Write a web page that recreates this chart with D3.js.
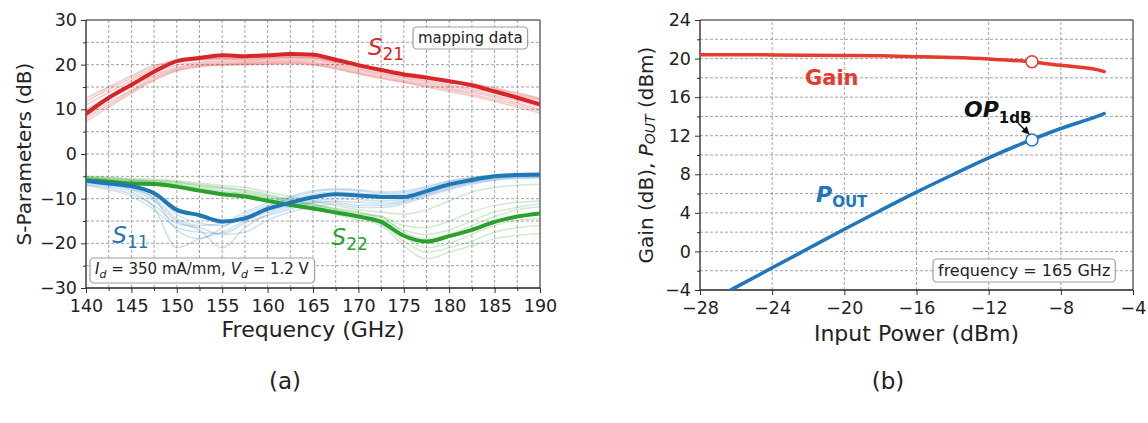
<!DOCTYPE html>
<html>
<head>
<meta charset="utf-8">
<script src="https://cdn.jsdelivr.net/npm/d3@7"></script>
<style>
  body { margin: 0; background: #fff; }
  svg { display: block; }
  text { font-family: "DejaVu Sans", sans-serif; }
</style>
</head>
<body>
<svg id="chart" width="1148" height="423" fill="#222"></svg>
<script>
// ---- panel (a): S-parameters vs frequency ----
var freq = [140, 142.5, 145, 147.5, 150, 152.5, 155, 157.5, 160, 162.5, 165,
            167.5, 170, 172.5, 175, 177.5, 180, 182.5, 185, 187.5, 190];

var s21 = [9.0, 12.6, 15.5, 18.4, 20.8, 21.5, 22.1, 21.9, 22.1, 22.4, 22.2,
           21.1, 19.9, 18.8, 17.8, 17.1, 16.3, 15.4, 14.0, 12.6, 11.1];
var s11 = [-6.0, -6.6, -7.2, -8.8, -12.5, -13.7, -15.1, -14.4, -12.3, -10.9, -9.7,
           -9.0, -9.3, -9.6, -9.6, -8.3, -6.8, -5.8, -5.0, -4.7, -4.6];
var s22 = [-5.9, -6.2, -6.6, -6.7, -7.3, -8.2, -9.0, -9.5, -10.5, -11.4, -12.2,
           -13.1, -14.0, -15.2, -18.3, -19.6, -18.4, -17.0, -15.2, -14.0, -13.3];

// the faint "mapping data" traces
var s21Map = [
  [12.5, 15.0, 17.5, 19.8, 21.0, 21.3, 21.5, 21.5, 21.6, 21.8, 21.6, 20.8, 19.9, 19.0, 18.2, 17.4, 16.6, 15.8, 14.8, 13.7, 12.5],
  [11.0, 13.8, 16.5, 19.0, 20.6, 21.0, 21.2, 21.1, 21.3, 21.5, 21.3, 20.4, 19.4, 18.5, 17.6, 16.8, 16.0, 15.2, 14.2, 13.1, 12.0],
  [10.0, 12.8, 15.5, 18.2, 19.9, 20.5, 20.8, 20.8, 21.0, 21.2, 21.0, 20.1, 19.1, 18.1, 17.2, 16.4, 15.5, 14.6, 13.6, 12.4, 11.2],
  [9.5, 12.2, 15.0, 17.6, 19.4, 20.2, 20.5, 20.5, 20.7, 20.9, 20.6, 19.8, 18.8, 17.8, 16.9, 16.0, 15.1, 14.2, 13.1, 11.9, 10.6],
  [8.5, 11.5, 14.3, 17.2, 19.1, 19.9, 20.2, 20.3, 20.5, 20.6, 20.3, 19.5, 18.4, 17.4, 16.5, 15.6, 14.7, 13.8, 12.7, 11.4, 10.0],
  [8.0, 11.0, 14.0, 16.8, 18.8, 19.7, 20.0, 20.1, 20.2, 20.4, 20.1, 19.2, 18.1, 17.1, 16.2, 15.3, 14.4, 13.4, 12.2, 11.0, 9.6],
  [7.3, 10.5, 13.6, 16.5, 18.6, 19.5, 19.9, 20.0, 20.1, 20.2, 19.9, 19.0, 17.9, 16.9, 16.0, 15.0, 14.0, 13.0, 11.8, 10.5, 9.2],
  [11.8, 14.5, 17.0, 19.4, 20.8, 21.2, 21.4, 21.3, 21.5, 21.7, 21.5, 20.6, 19.6, 18.7, 17.9, 17.0, 16.2, 15.4, 14.5, 13.4, 12.3]
];
var s11Map = [
  [-5.8, -6.5, -7.5, -10.0, -17.0, -19.0, -16.5, -13.5, -11.5, -10.2, -9.0, -8.5, -8.8, -9.2, -9.0, -7.8, -6.5, -5.6, -5.0, -4.8, -4.7],
  [-6.5, -7.3, -8.5, -12.0, -21.0, -19.0, -17.5, -15.0, -13.0, -11.5, -10.5, -10.0, -10.2, -10.5, -10.2, -8.8, -7.3, -6.2, -5.4, -5.0, -4.9],
  [-6.2, -7.0, -8.0, -10.5, -15.0, -17.0, -21.0, -16.5, -13.5, -11.8, -10.8, -10.5, -10.8, -11.0, -10.5, -9.0, -7.5, -6.3, -5.5, -5.1, -5.0],
  [-7.0, -8.0, -9.5, -12.5, -16.5, -17.5, -17.8, -15.5, -13.8, -12.3, -11.0, -10.8, -11.5, -11.5, -10.8, -9.2, -7.8, -6.5, -5.7, -5.3, -5.2],
  [-5.5, -6.0, -7.0, -9.0, -13.5, -15.5, -16.0, -14.0, -11.8, -9.8, -8.5, -8.0, -8.3, -8.8, -8.6, -7.5, -6.2, -5.3, -4.8, -4.6, -4.5],
  [-6.8, -7.6, -9.0, -11.5, -15.5, -16.5, -18.0, -17.5, -14.8, -13.0, -11.8, -11.2, -12.0, -12.0, -11.2, -9.5, -8.0, -6.8, -5.9, -5.5, -5.4],
  [-6.0, -6.8, -7.8, -9.8, -14.5, -16.0, -15.5, -13.0, -11.0, -9.5, -8.2, -7.8, -8.0, -8.5, -8.3, -7.2, -6.0, -5.2, -4.7, -4.5, -4.4]
];
var s22Map = [
  [-5.0, -5.2, -5.5, -5.6, -6.0, -6.5, -7.0, -7.5, -8.5, -9.5, -10.5, -11.5, -12.5, -13.0, -13.5, -12.5, -10.5, -8.5, -7.5, -7.0, -6.8],
  [-5.3, -5.6, -5.9, -6.1, -6.5, -7.2, -7.8, -8.5, -9.5, -10.5, -11.5, -12.5, -13.5, -14.0, -16.0, -16.5, -15.0, -13.0, -11.5, -10.8, -10.5],
  [-5.5, -5.8, -6.2, -6.4, -6.9, -7.8, -8.5, -9.0, -10.0, -11.0, -12.0, -13.0, -14.2, -15.5, -19.5, -22.0, -21.0, -19.5, -17.5, -16.5, -16.0],
  [-5.7, -6.0, -6.4, -6.6, -7.2, -8.0, -8.8, -9.2, -10.3, -11.2, -12.3, -13.5, -14.8, -16.0, -20.5, -23.5, -22.0, -20.5, -19.0, -18.2, -17.8],
  [-5.2, -5.5, -5.8, -6.0, -6.4, -7.0, -7.6, -8.2, -9.3, -10.3, -11.3, -12.3, -13.2, -14.0, -17.5, -19.0, -18.0, -16.0, -14.0, -12.5, -11.8],
  [-5.4, -5.7, -6.0, -6.3, -6.8, -7.5, -8.2, -8.8, -9.8, -10.8, -11.8, -12.8, -13.8, -14.8, -18.5, -21.0, -20.0, -18.0, -16.0, -14.8, -14.5],
  [-5.1, -5.3, -5.7, -5.9, -6.2, -6.8, -7.4, -8.0, -9.0, -10.2, -11.2, -12.2, -13.0, -14.5, -17.0, -18.0, -17.0, -15.0, -13.0, -12.0, -11.0]
];

var freqTicks = [140, 145, 150, 155, 160, 165, 170, 175, 180, 185, 190];
var sparTicks = [-30, -20, -10, 0, 10, 20, 30];

// ---- panel (b): gain and output power vs input power ----
var pin  = [-28, -26, -24, -22, -20, -18, -16, -14, -12, -10, -8, -6, -5.6];
var gain = [20.4, 20.4, 20.38, 20.35, 20.32, 20.28, 20.2, 20.1, 19.95, 19.72, 19.3, 18.85, 18.65];
var pout = [-5.7, -3.7, -1.7, 0.3, 2.3, 4.25, 6.15, 7.95, 9.7, 11.3, 12.75, 14.0, 14.3];
var op1dbPin = [-9.6];
var op1dbGain = [19.68];
var op1dbPout = [11.56];

var pinTicks = [-28, -24, -20, -16, -12, -8, -4];
var powTicks = [-4, 0, 4, 8, 12, 16, 20, 24];

var RED = '#d62728', BLUE = '#1f77b4', GREEN = '#2ca02c';
var RED_B = '#e53b2c', BLUE_B = '#2077be';

var svg = d3.select('#chart');
var defs = svg.append('defs');

// grid + axes + frame for one panel
function frame(g, x, y, xMajor, xMinor, yMajor, yMinor, xGrid, yGrid) {
  var x0 = x.range()[0], x1 = x.range()[1], y0 = y.range()[0], y1 = y.range()[1];
  var grid = g.append('g').attr('stroke', '#8c8c8c').attr('stroke-width', 0.8)
              .attr('stroke-dasharray', '3,2');
  grid.selectAll('.gx').data(xGrid).enter().append('line')
      .attr('x1', function(d) { return x(d); }).attr('x2', function(d) { return x(d); })
      .attr('y1', y0).attr('y2', y1);
  grid.selectAll('.gy').data(yGrid).enter().append('line')
      .attr('y1', function(d) { return y(d); }).attr('y2', function(d) { return y(d); })
      .attr('x1', x0).attr('x2', x1);

  var ax = g.append('g').attr('transform', 'translate(0,' + y0 + ')')
            .call(d3.axisBottom(x).tickValues(xMajor).tickSize(5).tickPadding(3).tickFormat(d3.format('d')));
  var axm = g.append('g').attr('transform', 'translate(0,' + y0 + ')')
             .call(d3.axisBottom(x).tickValues(xMinor).tickSize(3).tickFormat(''));
  var ay = g.append('g').attr('transform', 'translate(' + x0 + ',0)')
            .call(d3.axisLeft(y).tickValues(yMajor).tickSize(5).tickPadding(4).tickFormat(d3.format('d')));
  var aym = g.append('g').attr('transform', 'translate(' + x0 + ',0)')
             .call(d3.axisLeft(y).tickValues(yMinor).tickSize(3).tickFormat(''));
  [ax, axm, ay, aym].forEach(function(a) {
    a.select('.domain').remove();
    a.selectAll('line').attr('stroke', '#333').attr('stroke-width', 1);
    a.selectAll('text').attr('font-size', 17.5).attr('fill', '#222')
     .attr('font-family', '"DejaVu Sans", sans-serif');
  });
  ax.selectAll('text').attr('dy', '0.9em');

  // spines: top/right grey, left/bottom dark
  g.append('line').attr('x1', x0).attr('x2', x1).attr('y1', y1).attr('y2', y1)
   .attr('stroke', '#666').attr('stroke-width', 1.5);
  g.append('line').attr('x1', x1).attr('x2', x1).attr('y1', y0).attr('y2', y1)
   .attr('stroke', '#666').attr('stroke-width', 1.5);
  g.append('line').attr('x1', x0).attr('x2', x0).attr('y1', y0).attr('y2', y1)
   .attr('stroke', '#222').attr('stroke-width', 1.3);
  g.append('line').attr('x1', x0).attr('x2', x1).attr('y1', y0).attr('y2', y0)
   .attr('stroke', '#222').attr('stroke-width', 1.3);
}

function clip(id, x, y) {
  defs.append('clipPath').attr('id', id).append('rect')
      .attr('x', x.range()[0]).attr('y', y.range()[1])
      .attr('width', x.range()[1] - x.range()[0])
      .attr('height', y.range()[0] - y.range()[1]);
}

// rounded annotation box sized around its text
function boxed(g, x, y, build) {
  var t = g.append('text').attr('x', x).attr('y', y).attr('font-size', 15);
  build(t);
  var b = t.node().getBBox();
  g.insert('rect', function() { return t.node(); })
   .attr('x', b.x - 5).attr('y', b.y - 2).attr('width', b.width + 10).attr('height', b.height + 4)
   .attr('rx', 4).attr('fill', 'white').attr('fill-opacity', 0.85)
   .attr('stroke', '#a0a0a0').attr('stroke-width', 1.2);
}

function sLabel(g, x, y, sub, color) {
  var t = g.append('text').attr('x', x).attr('y', y).attr('fill', color);
  t.append('tspan').attr('font-size', 23).attr('font-style', 'italic').text('S');
  t.append('tspan').attr('font-size', 17).attr('dy', 5).text(sub);
}

// ================= panel (a) =================
var xa = d3.scaleLinear().domain([140, 190]).range([86, 540]);
var ya = d3.scaleLinear().domain([-30, 30]).range([288, 20]);
var ga = svg.append('g');
var fMinor = d3.range(142.5, 190, 5);
var sMinor = d3.range(-25, 30, 10);
frame(ga, xa, ya, freqTicks, fMinor, sparTicks, sMinor,
      d3.range(142.5, 190, 2.5), d3.range(-25, 30, 5));
clip('clipA', xa, ya);

var lineA = d3.line().curve(d3.curveMonotoneX)
              .x(function(d, i) { return xa(freq[i]); }).y(function(d) { return ya(d); });
var plotA = ga.append('g').attr('clip-path', 'url(#clipA)').attr('fill', 'none')
              .attr('stroke-linejoin', 'round').attr('stroke-linecap', 'round');

function thin(data, color, op) {
  plotA.append('g').selectAll('path').data(data).enter().append('path')
       .attr('d', lineA).attr('stroke', color).attr('stroke-width', 1.5).attr('stroke-opacity', op);
}
thin(s22Map, GREEN, 0.22);
thin(s21Map, RED, 0.25);
thin(s11Map, BLUE, 0.22);
[[s22, GREEN], [s21, RED], [s11, BLUE]].forEach(function(s) {
  plotA.append('path').datum(s[0]).attr('d', lineA).attr('stroke', s[1]).attr('stroke-width', 4);
});

sLabel(ga, xa(171.05), ya(22.2), '21', RED);
sLabel(ga, xa(142.9), ya(-20.0), '11', BLUE);
sLabel(ga, xa(167.05), ya(-20.4), '22', GREEN);

boxed(ga, 418, 43, function(t) { t.text('mapping data'); });
boxed(ga, 95, 274, function(t) {
  t.append('tspan').attr('font-style', 'italic').text('I');
  t.append('tspan').attr('font-style', 'italic').attr('font-size', 11).attr('dy', 4).text('d');
  t.append('tspan').attr('dy', -4).text(' = 350 mA/mm, ');
  t.append('tspan').attr('font-style', 'italic').text('V');
  t.append('tspan').attr('font-style', 'italic').attr('font-size', 11).attr('dy', 4).text('d');
  t.append('tspan').attr('dy', -4).text(' = 1.2 V');
});

ga.append('text').attr('x', (xa.range()[0] + xa.range()[1]) / 2).attr('y', 337)
  .attr('text-anchor', 'middle').attr('font-size', 22).text('Frequency (GHz)');
ga.append('text').attr('transform', 'translate(24,154) rotate(-90)')
  .attr('text-anchor', 'middle').attr('dominant-baseline', 'central')
  .attr('font-size', 20).text('S-Parameters (dB)');

// ================= panel (b) =================
var xb = d3.scaleLinear().domain([-28, -4]).range([700, 1133]);
var yb = d3.scaleLinear().domain([-4, 24]).range([290, 20]);
var gb = svg.append('g');
frame(gb, xb, yb, pinTicks, [], powTicks, d3.range(-2, 24, 4),
      d3.range(-24, -4, 4), d3.range(-2, 24, 2));
clip('clipB', xb, yb);

var lineB = d3.line().curve(d3.curveMonotoneX)
              .x(function(d, i) { return xb(pin[i]); }).y(function(d) { return yb(d); });
var plotB = gb.append('g').attr('clip-path', 'url(#clipB)').attr('fill', 'none')
              .attr('stroke-linecap', 'round');
plotB.append('path').datum(gain).attr('d', lineB).attr('stroke', RED_B).attr('stroke-width', 3.5);
plotB.append('path').datum(pout).attr('d', lineB).attr('stroke', BLUE_B).attr('stroke-width', 3.5);

// compression point markers
gb.selectAll('.mg').data(op1dbPin).enter().append('circle')
  .attr('cx', function(d) { return xb(d); }).attr('cy', function(d, i) { return yb(op1dbGain[i]); })
  .attr('r', 6).attr('fill', 'white').attr('stroke', RED_B).attr('stroke-width', 1.5);
gb.selectAll('.mp').data(op1dbPin).enter().append('circle')
  .attr('cx', function(d) { return xb(d); }).attr('cy', function(d, i) { return yb(op1dbPout[i]); })
  .attr('r', 6).attr('fill', 'white').attr('stroke', BLUE_B).attr('stroke-width', 1.5);

var lab = '"Open Sans", "DejaVu Sans", sans-serif';
gb.append('text').attr('x', 805).attr('y', 85).attr('font-family', lab)
  .attr('font-weight', 'bold').attr('font-size', 21).attr('fill', RED_B).text('Gain');

var tp = gb.append('text').attr('x', 816).attr('y', 202).attr('font-family', lab)
           .attr('font-weight', 'bold').attr('fill', BLUE_B);
tp.append('tspan').attr('font-size', 22).attr('font-style', 'italic').text('P');
tp.append('tspan').attr('font-size', 15).attr('dy', 5).text('OUT');

var to = gb.append('text').attr('x', 964).attr('y', 117).attr('font-family', lab)
           .attr('font-weight', 'bold').attr('fill', '#111');
to.append('tspan').attr('font-size', 22).attr('font-style', 'italic').text('OP');
to.append('tspan').attr('font-size', 15).attr('dy', 6).text('1dB');

defs.append('marker').attr('id', 'ah').attr('viewBox', '0 0 10 10').attr('refX', 9).attr('refY', 5)
    .attr('markerWidth', 6).attr('markerHeight', 6).attr('orient', 'auto')
    .append('path').attr('d', 'M0,0 L10,5 L0,10 z').attr('fill', '#111');
gb.append('line').attr('x1', 1018).attr('y1', 123).attr('x2', xb(op1dbPin[0]) - 3).attr('y2', yb(op1dbPout[0]) - 6)
  .attr('stroke', '#111').attr('stroke-width', 1.3).attr('marker-end', 'url(#ah)');

boxed(gb, 938, 276, function(t) { t.attr('font-size', 16).text('frequency = 165 GHz'); });

gb.append('text').attr('x', (xb.range()[0] + xb.range()[1]) / 2).attr('y', 341)
  .attr('text-anchor', 'middle').attr('font-size', 22).text('Input Power (dBm)');
var yl = gb.append('text').attr('transform', 'translate(646,155) rotate(-90)')
           .attr('text-anchor', 'middle').attr('dominant-baseline', 'central').attr('font-size', 20);
yl.append('tspan').text('Gain (dB), ');
yl.append('tspan').attr('font-style', 'italic').text('P');
yl.append('tspan').attr('font-style', 'italic').attr('font-size', 14).attr('dy', 4).text('OUT');
yl.append('tspan').attr('dy', -4).text(' (dBm)');

// panel captions
svg.append('text').attr('x', 285).attr('y', 389).attr('text-anchor', 'middle')
   .attr('font-family', lab).attr('font-size', 23).text('(a)');
svg.append('text').attr('x', 888).attr('y', 389).attr('text-anchor', 'middle')
   .attr('font-family', lab).attr('font-size', 23).text('(b)');
</script>
</body>
</html>
